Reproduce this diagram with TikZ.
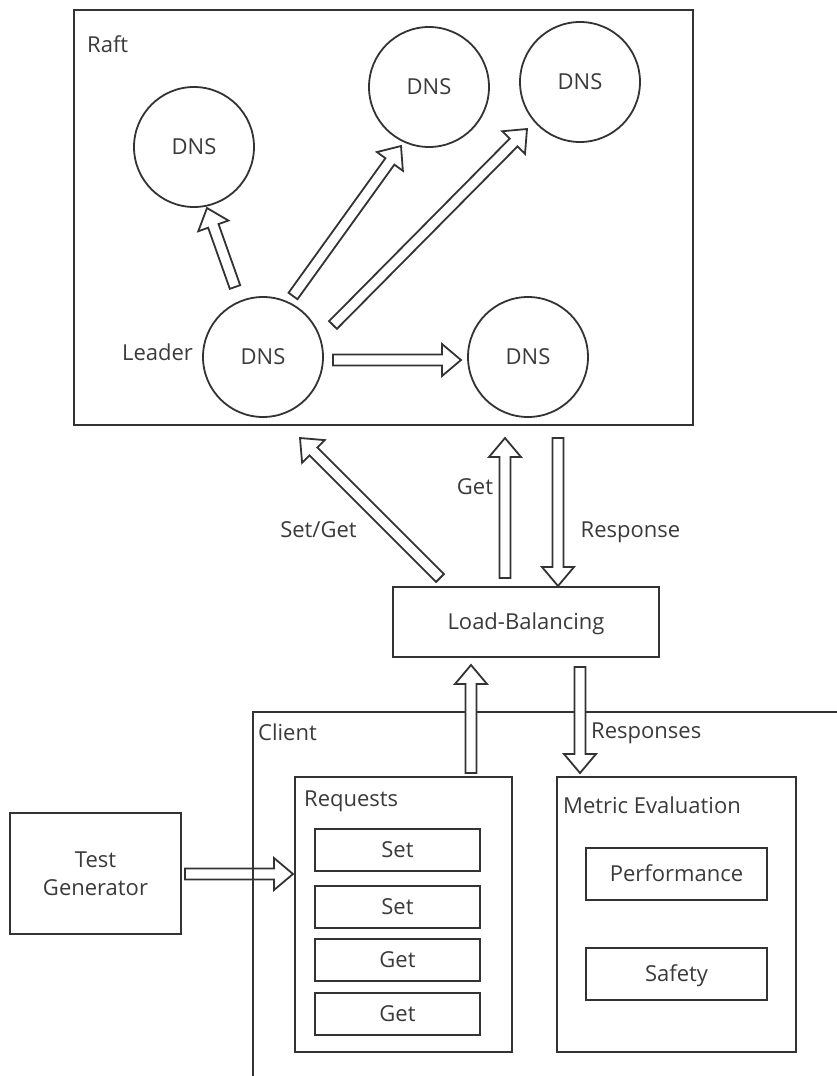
\documentclass[tikz,border=0pt]{standalone}
\usepackage{fontspec}
\setmainfont{Open Sans}
\usetikzlibrary{calc}
\definecolor{ln}{HTML}{333333}
\definecolor{tx}{HTML}{3A3A3A}
\newcommand\blkarrow[2]{%
  \coordinate (bh) at ($(#2)!19pt!(#1)$);
  \draw[blk] ($(#1)!5.5pt!90:(#2)$) -- ($(bh)!5.5pt!-90:(#1)$) -- ($(bh)!16pt!-90:(#1)$) -- (#2) -- ($(bh)!16pt!90:(#1)$) -- ($(bh)!5.5pt!90:(#1)$) -- ($(#1)!5.5pt!-90:(#2)$) -- cycle;}
\begin{document}
\begin{tikzpicture}[x=1pt,y=-1pt,
  every node/.style={font=\fontsize{22}{28}\selectfont},
  box/.style={draw=ln, line width=1.8pt, rectangle, inner sep=0pt, text=tx},
  ctr/.style={text height=15.7pt, text depth=0pt},
  dns/.style={draw=ln, line width=1.8pt, circle, minimum size=120pt, inner sep=0pt, text=tx, text height=15.7pt, text depth=0pt},
  blk/.style={draw=ln, line width=1.8pt, fill=white, line join=miter},
  lbl/.style={inner sep=0pt, text=tx}]
\useasboundingbox (0,0) rectangle (836,1076);

% Raft cluster
\node[box, minimum width=619pt, minimum height=415pt] (raft) at (383.5,217.5) {};
\node[lbl, anchor=base west] (raftl) at (87,52) {Raft};
\node[dns] (n1) at (194,147) {DNS};
\node[dns] (n2) at (429,87) {DNS};
\node[dns] (n3) at (580,82) {DNS};
\node[dns] (lead) at (263,357) {DNS};
\node[dns] (n4) at (528,357) {DNS};
\node[lbl, anchor=base] (leadl) at (157.5,360) {Leader};

\coordinate (a1t) at (235,287); \coordinate (a1h) at (207,208);
\coordinate (a2t) at (293,296); \coordinate (a2h) at (401,146);
\coordinate (a3t) at (333,325); \coordinate (a3h) at (527,129);
\coordinate (a4t) at (333,360); \coordinate (a4h) at (461,360);
\blkarrow{a1t}{a1h}
\blkarrow{a2t}{a2h}
\blkarrow{a3t}{a3h}
\blkarrow{a4t}{a4h}

% Load balancing
\node[box, ctr, minimum width=266pt, minimum height=70pt] (lb) at (526,622) {Load-Balancing};
\coordinate (sgt) at (440,578); \coordinate (sgh) at (300,438);
\coordinate (gt) at (505,578); \coordinate (gh) at (505,438);
\coordinate (rt) at (558,438); \coordinate (rh) at (558,586);
\blkarrow{sgt}{sgh}
\blkarrow{gt}{gh}
\blkarrow{rt}{rh}
\node[lbl, anchor=base] (getl) at (475,494) {Get};
\node[lbl, anchor=base] (sgl) at (318.5,537) {Set/Get};
\node[lbl, anchor=base] (resl) at (630.5,537) {Response};

% Test generator
\node[box, align=center, minimum width=171pt, minimum height=121pt] (tg) at (95.5,873.5) {Test\\Generator};
\coordinate (tgt) at (185,874); \coordinate (tgh) at (293,874);
\blkarrow{tgt}{tgh}

% Client
\draw[draw=ln, line width=1.8pt] (840,712) -- (253,712) -- (253,1080);
\node[lbl, anchor=base west] (clientl) at (258,740) {Client};
\node[lbl, anchor=base west] (respsl) at (591,738) {Responses};

\coordinate (ut) at (471,773); \coordinate (uh) at (471,665);
\coordinate (dt) at (580,667); \coordinate (dh) at (580,773);
\blkarrow{ut}{uh}
\blkarrow{dt}{dh}

% Requests
\node[box, minimum width=217pt, minimum height=275pt] (req) at (403.5,914.5) {};
\node[lbl, anchor=base west] (reql) at (304,806) {Requests};
\node[box, ctr, minimum width=165pt, minimum height=42pt] (s1) at (397.5,850) {Set};
\node[box, ctr, minimum width=165pt, minimum height=42pt] (s2) at (397.5,907) {Set};
\node[box, ctr, minimum width=165pt, minimum height=42pt] (g1) at (397.5,960) {Get};
\node[box, ctr, minimum width=165pt, minimum height=42pt] (g2) at (397.5,1014) {Get};

% Metric evaluation
\node[box, minimum width=239pt, minimum height=275pt] (met) at (676.5,914.5) {};
\node[lbl, anchor=base west] (metl) at (563,813) {Metric Evaluation};
\node[box, ctr, minimum width=181pt, minimum height=52pt] (perf) at (676.5,874) {Performance};
\node[box, ctr, minimum width=181pt, minimum height=52pt] (safe) at (676.5,974) {Safety};
\end{tikzpicture}
\end{document}
